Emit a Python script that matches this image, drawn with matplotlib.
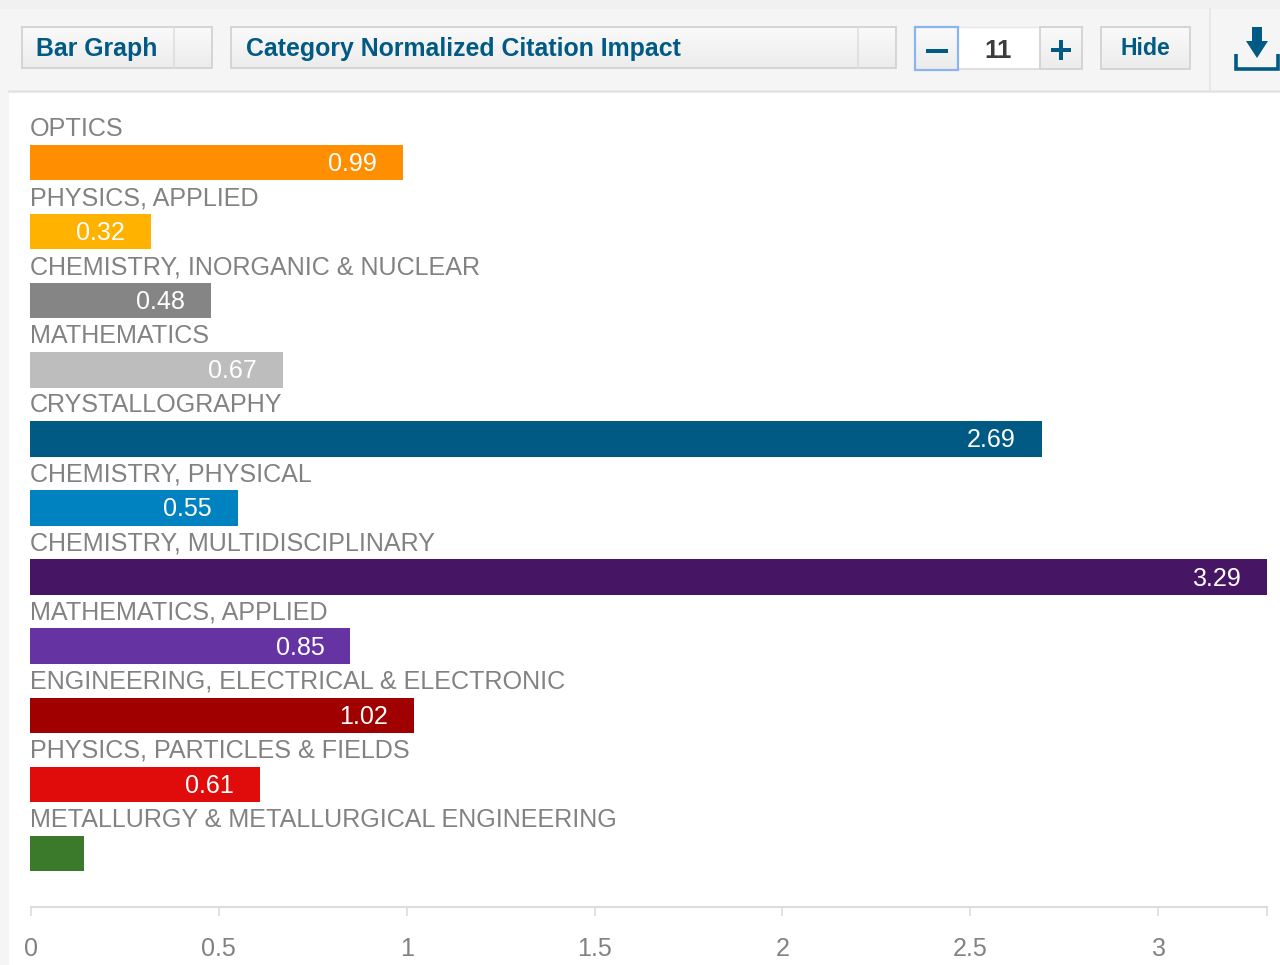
import matplotlib
matplotlib.use("Agg")
import matplotlib.pyplot as plt
from matplotlib.patches import Rectangle, Polygon
import numpy as np

plt.rcParams['font.family'] = ['Liberation Sans', 'DejaVu Sans']

W, H = 1280, 965

categories = ["OPTICS", "PHYSICS, APPLIED", "CHEMISTRY, INORGANIC & NUCLEAR", "MATHEMATICS",
              "CRYSTALLOGRAPHY", "CHEMISTRY, PHYSICAL", "CHEMISTRY, MULTIDISCIPLINARY",
              "MATHEMATICS, APPLIED", "ENGINEERING, ELECTRICAL & ELECTRONIC",
              "PHYSICS, PARTICLES & FIELDS", "METALLURGY & METALLURGICAL ENGINEERING"]
values = [0.99, 0.32, 0.48, 0.67, 2.69, 0.55, 3.29, 0.85, 1.02, 0.61, 0.14]
value_labels = ["0.99", "0.32", "0.48", "0.67", "2.69", "0.55", "3.29", "0.85", "1.02", "0.61", ""]
colors = ["#ff8f00", "#ffb300", "#858585", "#bdbdbd", "#005a84", "#0082c0", "#461664",
          "#6633a3", "#a00000", "#e00c0c", "#3a7a2a"]
x_ticks = [0, 0.5, 1, 1.5, 2, 2.5, 3, 3.29]
x_ticklabels = ["0", "0.5", "1", "1.5", "2", "2.5", "3", ""]

BLUE = "#005a84"
GREY = "#828282"
LABEL_PT = 18.05

fig = plt.figure(figsize=(W / 100, H / 100), dpi=100, facecolor="white")

# chart, y positions are worked out so the bars land every 69 px from y=162
pitch = 69.1
top_px, bottom_px = 93, 907
ax = fig.add_axes([31 / W, 1 - bottom_px / H, (1267 - 31) / W, (bottom_px - top_px) / H])
ax.set_xlim(0, 3.29)
ax.set_ylim((bottom_px - 162.5) / pitch, (top_px - 162.5) / pitch)
ax.patch.set_alpha(0)

y = np.arange(len(categories))
# bars start one pixel left of the axis in the original
nudge = 1 / 375.7
ax.barh(y, np.array(values) + nudge, height=35.5 / pitch, color=colors, left=-nudge, clip_on=False)

for i in range(len(categories)):
    ax.annotate(categories[i], (0, i), xytext=(-1, 33.5), textcoords="offset pixels",
                ha="left", va="center", fontsize=LABEL_PT, color=GREY, annotation_clip=False)
    if value_labels[i]:
        ax.annotate(value_labels[i], (values[i], i), xytext=(-26, -1.5), textcoords="offset pixels",
                    ha="right", va="center", fontsize=LABEL_PT, color="white")

for s in ["top", "left", "right"]:
    ax.spines[s].set_visible(False)
ax.spines["bottom"].set_color("#dddddd")
ax.spines["bottom"].set_linewidth(1.5)
ax.set_yticks([])
ax.set_xticks(x_ticks)
ax.set_xticklabels(x_ticklabels, fontsize=LABEL_PT, color=GREY)
ax.tick_params(axis="x", length=6.5, width=1.2, color="#dddddd", pad=15)

# toolbar drawn on top, in pixel coordinates
ov = fig.add_axes([0, 0, 1, 1])
ov.set_xlim(0, W)
ov.set_ylim(H, 0)
ov.axis("off")
ov.patch.set_alpha(0)

ov.add_patch(Rectangle((0, 0), 9, H, fc="#f5f5f5", ec="none"))
ov.add_patch(Rectangle((0, 0), W, 9, fc="#f1f1f1", ec="none"))
ov.add_patch(Rectangle((9, 9), W - 9, 81, fc="#f5f5f5", ec="none"))
ov.plot([9, W], [90.5, 90.5], color="#e2e2e2", lw=1.8)
ov.plot([1209.5, 1209.5], [9, 90], color="#e6e6e6", lw=1.3)


def button(x0, x1, y0=27, y1=68, top="#fafafa", bottom="#ececec", edge="#d2d2d2", lw=1.3):
    grad = np.linspace(0, 1, 32).reshape(-1, 1, 1)
    c0 = np.array(matplotlib.colors.to_rgb(top)).reshape(1, 1, 3)
    c1 = np.array(matplotlib.colors.to_rgb(bottom)).reshape(1, 1, 3)
    ov.imshow(c0 * (1 - grad) + c1 * grad, extent=(x0, x1, y1, y0), aspect="auto", zorder=2)
    ov.add_patch(Rectangle((x0, y0), x1 - x0, y1 - y0, fc="none", ec=edge, lw=lw, zorder=3))


button(21.5, 211.5)
ov.plot([174, 174], [27, 68], color="#dcdcdc", lw=1.1, zorder=4)
button(230.5, 895.5)
ov.plot([858, 858], [27, 68], color="#dcdcdc", lw=1.1, zorder=4)
ov.add_patch(Rectangle((958, 27), 82, 42, fc="white", ec="none", zorder=2))
ov.plot([958, 1040], [68.5, 68.5], color="#dcdcdc", lw=1.3, zorder=3)
ov.plot([958, 1040], [27, 27], color="#e8e8e8", lw=1, zorder=3)
button(914.5, 958, y1=70, edge="#8ab4f0", lw=1.6)
button(1040, 1082, y1=69)
button(1101, 1190, y1=69)

tb = dict(fontsize=17.9, fontweight="bold", color=BLUE, va="center", zorder=5)
ov.text(36, 49, "Bar Graph", ha="left", **tb)
ov.text(246, 49, "Category Normalized Citation Impact", ha="left", **tb)
ov.text(1145.5, 48.5, "Hide", ha="center", fontsize=16.6, fontweight="bold", color=BLUE, va="center", zorder=5)
ov.text(998.5, 51, "11", ha="center", va="center", fontsize=18.5, fontweight="bold", color="#3c3c3c", zorder=5)

# minus, plus, download icon
ov.add_patch(Rectangle((926, 49), 22, 4, fc=BLUE, ec="none", zorder=5))
ov.add_patch(Rectangle((1051, 48), 20, 4, fc=BLUE, ec="none", zorder=5))
ov.add_patch(Rectangle((1059, 40), 4, 20, fc=BLUE, ec="none", zorder=5))
ov.add_patch(Polygon([(1252, 27), (1262, 27), (1262, 41), (1268, 41), (1257, 58), (1246, 41), (1252, 41)],
                     fc=BLUE, ec="none", zorder=5))
ov.plot([1235.5, 1235.5, 1277.5, 1277.5], [54, 69, 69, 54], color=BLUE, lw=2.6,
        solid_capstyle="butt", solid_joinstyle="miter", zorder=5)

fig.savefig("out.png", dpi=100)
